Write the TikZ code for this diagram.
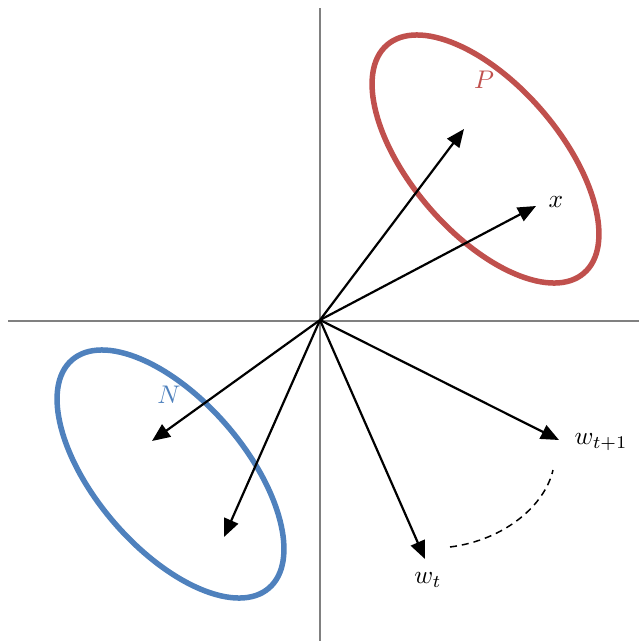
\documentclass[tikz,border=0pt]{standalone}
\usetikzlibrary{arrows.meta}
\definecolor{pred}{HTML}{C0504D}
\definecolor{nblue}{HTML}{4F81BD}
\definecolor{axisgray}{HTML}{808080}
\tikzset{
  axisline/.style={draw=axisgray, line width=1.5pt},
  vec/.style={draw=black, line width=2.2pt, -{Triangle[length=18pt,width=15pt]}},
  setring/.style={line width=5.5pt},
  lbl/.style={inner sep=0pt, scale=2.55, transform shape},
  arc/.style={draw=black, line width=1.5pt, dash pattern=on 7pt off 5pt}
}
\begin{document}
\begin{tikzpicture}[x=1pt,y=-1pt]
\useasboundingbox (0,0) rectangle (639,641);
% axes
\coordinate (xl) at (8,321);
\coordinate (xr) at (639,321);
\coordinate (yt) at (320,8);
\coordinate (yb) at (320,641);
\draw[axisline] (xl) -- (xr);
\draw[axisline] (yt) -- (yb);
% sets
\draw[setring, draw=pred] (485.5,159) ellipse[x radius=150.7, y radius=74.4, rotate=-49.2];
\draw[setring, draw=nblue] (170.5,474) ellipse[x radius=150.7, y radius=74.4, rotate=-49.2];
% origin and vector tips
\coordinate (O) at (320,320);
\coordinate (p1) at (464,129);
\coordinate (x) at (536,206);
\coordinate (n1) at (152,441);
\coordinate (n2) at (224,537);
\coordinate (wt) at (425,559);
\coordinate (wt1) at (559,440);
\draw[vec] (O) -- (p1);
\draw[vec] (O) -- (x);
\draw[vec] (O) -- (n1);
\draw[vec] (O) -- (n2);
\draw[vec] (O) -- (wt);
\draw[vec] (O) -- (wt1);
% labels
\node[lbl] (lx) at (556,202) {$x$};
\node[lbl, text=pred] (lP) at (484,80) {$P$};
\node[lbl, text=nblue] (lN) at (169,395) {$N$};
\node[lbl, anchor=west] (lwt1) at (574,442) {$w_{t+1}$};
\node[lbl] (lwt) at (428,580) {$w_t$};
% dashed update arc
\coordinate (a1) at (450,547);
\coordinate (a2) at (553,470);
\draw[arc] (a1) .. controls (505,540) and (545,505) .. (a2);
\end{tikzpicture}
\end{document}
